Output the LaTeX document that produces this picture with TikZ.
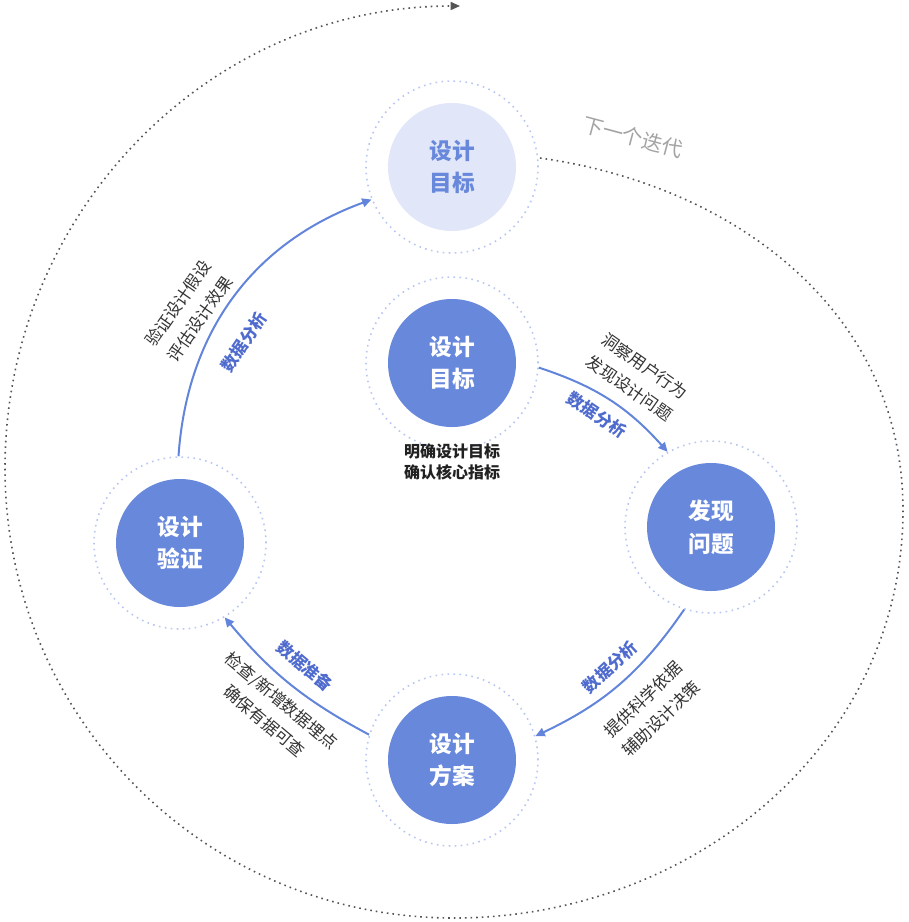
\documentclass[tikz,border=0pt]{standalone}
\usepackage{fontspec}
\setmainfont{Noto Sans CJK SC}
\usetikzlibrary{arrows.meta}
\definecolor{stageblue}{HTML}{6888DC}
\definecolor{stagelight}{HTML}{E1E7F8}
\definecolor{ringdot}{HTML}{B8C7F1}
\definecolor{flowblue}{HTML}{6284DB}
\definecolor{tagblue}{HTML}{4F6BCD}
\definecolor{notegray}{HTML}{333333}
\definecolor{itergray}{HTML}{A3A3A3}
\definecolor{loopgray}{HTML}{555555}

\tikzset{
  ring/.style={circle, draw=ringdot, line width=1.2pt, dash pattern=on 1.2pt off 3.3pt, minimum size=129pt, inner sep=0pt},
  stage/.style={circle, fill=stageblue, text=white, minimum size=96pt, inner sep=0pt, align=center, font=\fontsize{17}{24.5}\selectfont\bfseries},
  goal/.style={stage, fill=stagelight, text=stageblue},
  flow/.style={draw=flowblue, line width=1.5pt, -{Triangle[length=7pt,width=6.5pt]}},
  tag/.style={text=tagblue, font=\fontsize{12.5}{15}\selectfont\bfseries},
  note/.style={text=notegray, align=center, font=\fontsize{12.5}{20}\selectfont},
  iterline/.style={draw=loopgray, line width=1.2pt, dash pattern=on 1.2pt off 3pt, -{Triangle[length=7pt,width=6pt]}},
}

\begin{document}
\begin{tikzpicture}[x=0.75pt, y=0.75pt]
  %%%%% START %%%%%
  \useasboundingbox (0,0) rectangle (908,-922);

  % outer iteration loop
  \coordinate (loopA) at (540,-158);
  \coordinate (loopB) at (903,-510);
  \coordinate (loopC) at (454,-918);
  \coordinate (loopD) at (5,-468);
  \coordinate (loopE) at (460,-6);
  \draw[iterline] (loopA) to[out=-8,in=90] (loopB) to[out=-90,in=0] (loopC)
    to[out=180,in=-90] (loopD) to[out=90,in=180] (loopE);
  \node[text=itergray, font=\fontsize{15.5}{18}\selectfont, rotate=-15] (iter) at (633,-137) {下一个迭代};

  % stages
  \node[ring] (tgtR) at (452,-167) {};
  \node[goal] (tgt) at (tgtR) {设计\\目标};
  \node[ring] (ctrR) at (452,-363) {};
  \node[stage] (ctr) at (ctrR) {设计\\目标};
  \node[ring] (fndR) at (711,-527) {};
  \node[stage] (fnd) at (fndR) {发现\\问题};
  \node[ring] (plnR) at (452,-760) {};
  \node[stage] (pln) at (plnR) {设计\\方案};
  \node[ring] (vldR) at (180,-543) {};
  \node[stage] (vld) at (vldR) {设计\\验证};

  \node[note, text=black!87, font=\fontsize{12}{15.2}\selectfont\bfseries] (ctrNote) at (452,-462) {明确设计目标\\确认核心指标};

  % flows
  \draw[flow] (ctrR.-3) to[bend left=15] (fndR.120);
  \node[tag, rotate=-34] (tagA) at (597,-415) {数据分析};
  \node[note, rotate=-35] (noteA) at (637,-377) {洞察用户行为\\发现设计问题};

  \draw[flow] (fndR.252) to[bend left=15] (plnR.16);
  \node[tag, rotate=43] (tagB) at (610,-667) {数据分析};
  \node[note, rotate=44] (noteB) at (652,-709) {提供科学依据\\辅助设计决策};

  \draw[flow] (plnR.163) to[bend left=11] (vldR.301);
  \node[tag, rotate=-40] (tagC) at (305,-666) {数据准备};
  \node[note, rotate=-40] (noteC) at (273,-711) {检查/新增数据埋点\\确保有据可查};

  \draw[flow] (vldR.91) to[bend left=33] (tgtR.202);
  \node[tag, rotate=56] (tagD) at (244,-342) {数据分析};
  \node[note, rotate=55] (noteD) at (189,-311) {验证设计假设\\评估设计效果};
  %%%%% END %%%%%
\end{tikzpicture}
\end{document}
